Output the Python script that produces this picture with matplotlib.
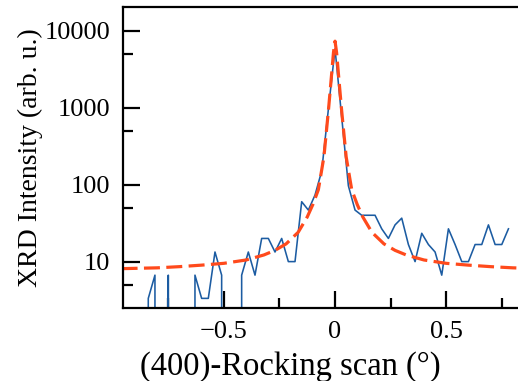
import matplotlib
matplotlib.use("Agg")
import matplotlib.pyplot as plt
import numpy as np

plt.rcParams["font.family"] = ["Liberation Serif", "DejaVu Serif"]
plt.rcParams["mathtext.fontset"] = "stix"

# rocking scan, 0.03 deg steps (counts scaled by 10/3)
omega = [-0.87, -0.84, -0.81, -0.78, -0.75, -0.72, -0.69, -0.66, -0.63, -0.60,
         -0.57, -0.54, -0.51, -0.48, -0.45, -0.42, -0.39, -0.36, -0.33, -0.30,
         -0.27, -0.24, -0.21, -0.18, -0.15, -0.12, -0.09, -0.06, -0.03, 0.00,
         0.03, 0.06, 0.09, 0.12, 0.15, 0.18, 0.21, 0.24, 0.27, 0.30,
         0.33, 0.36, 0.39, 0.42, 0.45, 0.48, 0.51, 0.54, 0.57, 0.60,
         0.63, 0.66, 0.69, 0.72, 0.75, 0.78]
intensity = [0, 3.33, 6.67, 0, 6.67, 0, 0, 0, 6.67, 3.33,
             3.33, 13.33, 6.67, 0, 0, 6.67, 13.33, 6.67, 20, 20,
             13.33, 20, 10, 10, 60, 46.67, 73.33, 150, 950, 5800,
             750, 96.67, 46.67, 40, 40, 40, 26.67, 20, 30, 36.67,
             16.67, 10, 23.33, 16.67, 13.33, 6.67, 26.67, 16.67, 10, 10,
             16.67, 16.67, 30, 16.67, 16.67, 26.67]

# peak fit curve
fit_omega = [-0.96, -0.8, -0.7, -0.6, -0.5, -0.4, -0.32, -0.27, -0.22, -0.166,
             -0.125, -0.1, -0.075, -0.05, -0.03, -0.015, -0.007, 0.0,
             0.007, 0.015, 0.03, 0.05, 0.075, 0.1, 0.125, 0.166, 0.22,
             0.27, 0.32, 0.4, 0.5, 0.6, 0.7, 0.8, 0.86]
fit_intensity = [8.1, 8.3, 8.6, 9.0, 9.5, 10.5, 12.2, 14, 17, 24,
                 38, 55, 86, 230, 900, 2800, 5200, 7300,
                 5200, 2800, 900, 230, 86, 55, 38, 24, 17,
                 14, 12.2, 10.5, 9.5, 9.0, 8.6, 8.3, 8.2]

y_ticks = [10, 100, 1000, 10000]
y_ticklabels = ["10", "100", "1000", "10000"]
x_ticks = [-0.5, 0, 0.5]
x_ticklabels = ["\u22120.5", "0", "0.5"]

fig = plt.figure(figsize=(5.18, 3.81), dpi=100)
ax = fig.add_axes([0.2369, 0.191, 0.7747, 0.7907])

ax.plot(omega, intensity, color="#1c5ca2", lw=1.15)
ax.plot(fit_omega, fit_intensity, color="#ff4a1c", lw=2.3, dashes=(5, 2))

ax.set_yscale("log")
ax.set_xlim(-0.955, 0.85)
ax.set_ylim(2.48, 2.03e4)

ax.set_yticks(y_ticks)
ax.set_yticklabels(y_ticklabels)
ax.set_yticks([5, 50, 500, 5000], minor=True)
ax.set_xticks(x_ticks)
ax.set_xticklabels(x_ticklabels)
ax.set_xticks([-0.75, -0.25, 0.25, 0.75], minor=True)
ax.yaxis.set_minor_formatter(matplotlib.ticker.NullFormatter())

ax.tick_params(which="both", direction="in", width=1.6, labelsize=19, pad=9,
               top=False, right=False)
ax.tick_params(which="major", length=12)
ax.tick_params(which="minor", length=7)
for sp in ax.spines.values():
    sp.set_linewidth(1.6)

ax.set_xlabel("(400)-Rocking scan (\u00b0)", fontsize=23.5)
ax.xaxis.set_label_coords(0.417, -0.142)
ax.set_ylabel("XRD Intensity (arb. u.)", fontsize=20, labelpad=1)

fig.savefig("out.png", dpi=100)
